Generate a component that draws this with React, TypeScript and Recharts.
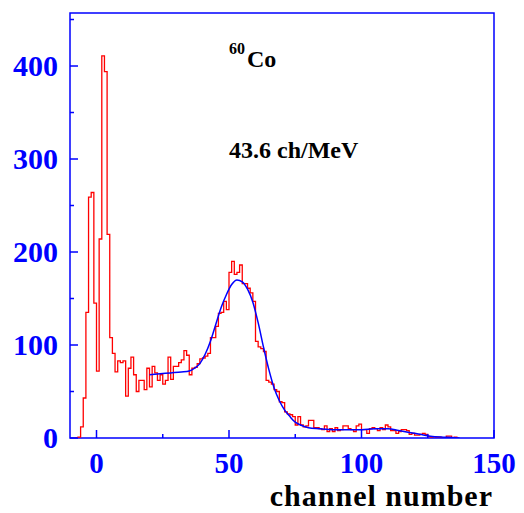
import { LineChart, Line, XAxis, YAxis, ReferenceArea } from "recharts";

// histogram: one bin per channel, first bin starts at channel -8
const histStart = -8;
const counts = [
  0, 1, 12, 43, 135, 259, 264, 145, 72, 214, 411, 394, 219, 108, 91, 71, 83, 81,
  83, 45, 75, 87, 68, 50, 62, 62, 52, 75, 55, 77, 70, 62, 68, 58, 62, 87, 63, 77,
  77, 81, 84, 94, 89, 68, 75, 76, 80, 85, 86, 88, 91, 108, 108, 120, 134, 135,
  147, 138, 178, 190, 176, 178, 186, 166, 166, 161, 156, 147, 104, 98, 96, 93,
  62, 60, 58, 52, 50, 39, 38, 28, 26, 25, 23, 14, 23, 14, 12, 13, 19, 19, 11, 11,
  10, 9, 13, 7, 10, 7, 11, 8, 9, 13, 13, 10, 9, 7, 13, 15, 9, 9, 5, 10, 11, 10, 8,
  11, 9, 14, 12, 8, 8, 5, 7, 9, 9, 8, 4, 5, 3, 3, 4, 5, 4, 1.5, 1, 1.5, 1, 1, 0.5,
  0.5, 2, 2, 0.5, 1,
];

// fitted curve
const fitChannels = [
  20, 24, 28, 32, 35, 37, 39, 41, 43, 45, 47, 49, 51, 53, 55, 57, 59, 61, 63, 65,
  67, 69, 71, 73, 75, 77, 80, 84, 90, 96, 100, 105, 110, 114, 118, 122, 126, 130,
  134, 137,
];
const fitValues = [
  68, 69, 70, 71, 72, 75, 80, 90, 104, 122, 140, 154, 165, 170, 168, 160, 146,
  124, 98, 74, 54, 40, 30, 23, 17, 14, 11, 10, 9, 9, 9, 10, 10, 8, 6, 4, 2, 1,
  0.5, 0,
];

const xTicks = [0, 25, 50, 75, 100, 125, 150];
const xMajor = [0, 50, 100, 150];
const yTicks = [0, 50, 100, 150, 200, 250, 300, 350, 400, 450];
const yMajor = [0, 100, 200, 300, 400];

const histData = counts
  .map((c, i) => ({ ch: histStart + i, count: c }))
  .concat([{ ch: histStart + counts.length, count: 0 }]);
const fitData = fitChannels.map((ch, i) => ({ ch, fit: fitValues[i] }));

const BLUE = "#0000ff";
const FONT = "'Liberation Serif', 'Times New Roman', serif";

function YTick(props: any) {
  const { x, y, payload } = props;
  const major = yMajor.includes(payload.value);
  return (
    <g>
      <line x1={x} x2={x + (major ? 8 : 4)} y1={y} y2={y} stroke={BLUE} strokeWidth={1.5} />
      {major && (
        <text x={x - 12} y={y + 10} textAnchor="end" fill={BLUE} fontSize={30} fontWeight="bold" fontFamily={FONT}>
          {payload.value}
        </text>
      )}
    </g>
  );
}

function XTick(props: any) {
  const { x, y, payload } = props;
  const major = xMajor.includes(payload.value);
  return (
    <g>
      <line x1={x} x2={x} y1={y} y2={y - (major ? 8 : 4)} stroke={BLUE} strokeWidth={1.5} />
      {major && (
        <text x={x} y={y + 35} textAnchor="middle" fill={BLUE} fontSize={29} fontWeight="bold" fontFamily={FONT}>
          {payload.value}
        </text>
      )}
    </g>
  );
}

export default function App() {
  return (
    <div style={{ position: "absolute", left: 0, top: 0, width: 524, height: 513, background: "#fff" }}>
      <LineChart width={524} height={513} margin={{ top: 13, right: 30, bottom: 0, left: 10 }}>
        <XAxis
          dataKey="ch"
          type="number"
          domain={[-10, 150]}
          ticks={xTicks}
          interval={0}
          height={75}
          tickSize={0}
          tickMargin={0}
          tickLine={false}
          axisLine={false}
          tick={<XTick />}
          allowDataOverflow
        />
        <YAxis
          type="number"
          domain={[0, 457]}
          ticks={yTicks}
          interval={0}
          width={60}
          tickSize={0}
          tickMargin={0}
          tickLine={false}
          axisLine={false}
          tick={<YTick />}
          allowDataOverflow
        />
        <Line
          data={histData}
          dataKey="count"
          type="stepAfter"
          stroke="#ff0000"
          strokeWidth={1.3}
          dot={false}
          isAnimationActive={false}
        />
        <Line
          data={fitData}
          dataKey="fit"
          type="monotone"
          stroke={BLUE}
          strokeWidth={1.5}
          dot={false}
          isAnimationActive={false}
        />
        <ReferenceArea x1={-10} x2={150} y1={0} y2={457} fill="none" stroke={BLUE} strokeWidth={1.5} />
      </LineChart>
      <svg
        width={524}
        height={513}
        style={{ position: "absolute", left: 0, top: 0, pointerEvents: "none" }}
        fontFamily={FONT}
        fontWeight="bold"
      >
        <text x={229} y={54} fontSize={16}>60</text>
        <text x={247} y={67} fontSize={24}>Co</text>
        <text x={229} y={158} fontSize={24}>43.6 ch/MeV</text>
        <text x={493} y={506} fontSize={30} letterSpacing={1} textAnchor="end">channel number</text>
      </svg>
    </div>
  );
}
